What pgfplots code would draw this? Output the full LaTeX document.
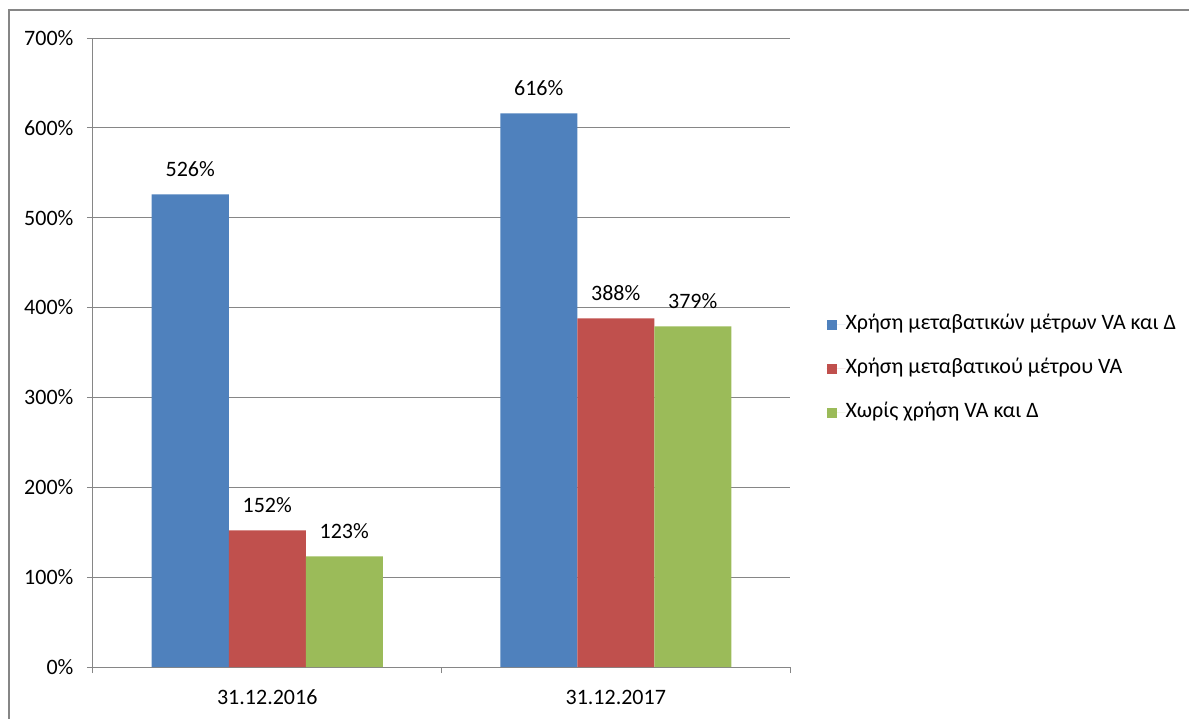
\documentclass[border=0pt]{standalone}
\usepackage{fontspec}
\setmainfont{Carlito}
\usepackage{pgfplots}
\pgfplotsset{compat=1.18}
\definecolor{cblue}{HTML}{4F81BD}
\definecolor{cred}{HTML}{C0504D}
\definecolor{cgreen}{HTML}{9BBB59}
\definecolor{cgrid}{HTML}{868686}
\begin{document}
\fontsize{16.5pt}{19pt}\selectfont
\begin{tikzpicture}
\useasboundingbox (0,0) rectangle (891.75pt,538.5pt);
\draw[cgrid, line width=1.5pt] (6.75pt,-2pt) -- (6.75pt,531pt) -- (895pt,531pt);
\begin{axis}[
  at={(69.75pt,38.25pt)}, anchor=south west,
  scale only axis, width=522.75pt, height=471.75pt,
  ybar=0pt, bar width=57.75pt,
  xmin=-0.5, xmax=1.5, ymin=0, ymax=700,
  xtick={0,1}, xticklabels={31.12.2016,31.12.2017},
  minor xtick={-0.5,0.5,1.5},
  ytick={0,100,...,700},
  yticklabel={\pgfmathprintnumber{\tick}\%},
  /pgf/number format/assume math mode=true,
  axis x line*=bottom, axis y line*=left,
  axis line style={cgrid, line width=0.75pt, -},
  ymajorgrids, grid style={cgrid, line width=0.75pt},
  major tick style={cgrid, line width=0.75pt},
  minor tick style={cgrid, line width=0.75pt},
  major x tick style={draw=none},
  tick align=outside, major tick length=4.5pt, minor tick length=4.5pt,
  tick label style={font=\fontsize{16.5pt}{19pt}\selectfont},
  yticklabel style={anchor=east, inner sep=0pt, xshift=-10pt},
  xticklabel style={anchor=north, inner sep=0pt, yshift=-12.5pt},
  nodes near coords={\pgfmathprintnumber{\pgfplotspointmeta}\%},
  nodes near coords style={anchor=south, inner sep=0pt, yshift=13pt, font=\fontsize{16.5pt}{19pt}\selectfont},
  legend style={at={(1.052,0.474)}, anchor=west, draw=none, fill=none, inner sep=0pt,
    row sep=18pt, nodes={inner sep=0pt, anchor=west, text height=11pt, text depth=4pt}, font=\fontsize{16.5pt}{19pt}\selectfont},
  legend cell align=left,
  legend image code/.code={\fill[#1, draw=none] (0pt,-3.75pt) rectangle (7.5pt,3.75pt); \path (0pt,0pt) -- (14.25pt,0pt);},
]
\addplot[fill=cblue, draw=none] coordinates {(0,526) (1,616)};
\addplot[fill=cred, draw=none] coordinates {(0,152) (1,388)};
\addplot[fill=cgreen, draw=none] coordinates {(0,123) (1,379)};
\legend{Χρήση μεταβατικών μέτρων VA και Δ, Χρήση μεταβατικού μέτρου VA, Χωρίς χρήση VA και Δ}
\end{axis}
\end{tikzpicture}
\end{document}
